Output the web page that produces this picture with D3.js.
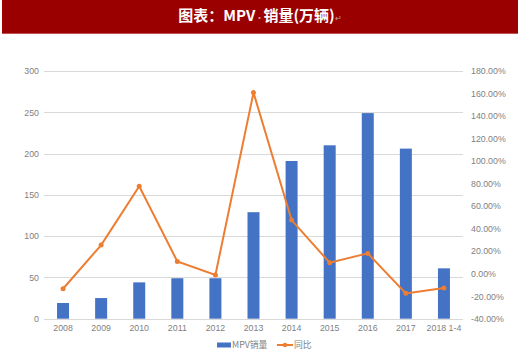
<!DOCTYPE html>
<html>
<head>
<meta charset="utf-8">
<script src="https://cdn.jsdelivr.net/npm/d3@7"></script>
<style>
  body { margin: 0; background: #fff; }
  svg { display: block; font-family: "Noto Sans CJK SC", "Noto Sans", sans-serif; }
</style>
</head>
<body>
<div id="chart"></div>
<script>
// chart data
let years = ['2008', '2009', '2010', '2011', '2012', '2013', '2014', '2015', '2016', '2017', '2018 1-4'];
let sales = [19, 25, 44, 49, 49, 129, 191, 210, 249, 206, 61];
let growth = [-13.4, 25.4, 77.7, 10.9, -1.2, 160.8, 47.6, 9.7, 18.0, -17.5, -12.8];
let leftTicks = [0, 50, 100, 150, 200, 250, 300];
let rightTicks = [-40, -20, 0, 20, 40, 60, 80, 100, 120, 140, 160, 180];

let width = 520, height = 354;
let margin = {top: 71, left: 44, right: 57, bottom: 35};

let svg = d3.select('#chart')
  .append('svg')
    .attr('width', width)
    .attr('height', height);

// header banner
svg.append('rect')
  .attr('x', 2)
  .attr('y', 0)
  .attr('width', 516)
  .attr('height', 34)
  .attr('fill', '#9a0000');

svg.append('rect')
  .attr('x', 2)
  .attr('y', 33)
  .attr('width', 516)
  .attr('height', 1)
  .attr('fill', '#c05050');

let title = svg.append('text')
  .attr('x', 260)
  .attr('y', 21)
  .attr('text-anchor', 'middle')
  .style('font-size', '15px')
  .style('font-weight', 'bold')
  .attr('fill', '#fff');
title.append('tspan').text('图表：MPV');
title.append('tspan').attr('fill', '#d8a0a0').style('font-size', '8px').text('·');
title.append('tspan').text('销量(万辆)');
title.append('tspan').attr('fill', '#c8a0a0').style('font-size', '8px').style('font-weight', 'normal').text('↵');

let plotW = width - margin.left - margin.right,
    plotH = height - margin.top - margin.bottom;

let g = svg.append('g')
  .attr('transform', 'translate(' + margin.left + ',' + margin.top + ')');

// scales
let x = d3.scaleBand()
  .domain(years)
  .range([0, plotW]);

let yLeft = d3.scaleLinear()
  .domain([0, 300])
  .range([plotH - 0.3, 0]);

let yRight = d3.scaleLinear()
  .domain([-40, 180])
  .range([plotH - 0.3, 0]);

// gridlines
g.append('g')
  .selectAll('line')
  .data(leftTicks)
  .enter()
  .append('line')
    .attr('x1', 0)
    .attr('x2', plotW)
    .attr('y1', d => Math.round(yLeft(d)) + 0.5)
    .attr('y2', d => Math.round(yLeft(d)) + 0.5)
    .attr('stroke', '#d9d9d9')
    .attr('stroke-width', 1);

// axis label style
let styleTicks = function(sel) {
  sel.select('.domain').remove();
  sel.selectAll('text')
    .style('font-size', '8.8px')
    .style('font-family', '"Liberation Sans", sans-serif')
    .attr('fill', '#7f7f7f');
};

// left axis
g.append('g')
  .call(d3.axisLeft(yLeft).tickValues(leftTicks).tickSize(0).tickPadding(5))
  .call(styleTicks);

// right axis
g.append('g')
  .attr('transform', 'translate(' + plotW + ',0)')
  .call(d3.axisRight(yRight).tickValues(rightTicks).tickSize(0).tickPadding(8)
    .tickFormat(d => d.toFixed(2) + '%'))
  .call(styleTicks);

// bottom axis
g.append('g')
  .attr('transform', 'translate(0,' + plotH + ')')
  .call(d3.axisBottom(x).tickSize(0).tickPadding(6))
  .call(styleTicks);

// bars
let barW = 12;
g.selectAll('.bar')
  .data(sales)
  .enter()
  .append('rect')
    .attr('class', 'bar')
    .attr('x', (d, i) => x(years[i]) + x.bandwidth() / 2 - barW / 2)
    .attr('y', d => yLeft(d))
    .attr('width', barW)
    .attr('height', d => yLeft(0) - yLeft(d))
    .attr('fill', '#4472c4');

// growth line
let line = d3.line()
  .x((d, i) => x(years[i]) + x.bandwidth() / 2)
  .y(d => yRight(d));

g.append('path')
  .datum(growth)
  .attr('d', line)
  .attr('fill', 'none')
  .attr('stroke', '#ed7d31')
  .attr('stroke-width', 2);

g.selectAll('.dot')
  .data(growth)
  .enter()
  .append('circle')
    .attr('class', 'dot')
    .attr('cx', (d, i) => x(years[i]) + x.bandwidth() / 2)
    .attr('cy', d => yRight(d))
    .attr('r', 2.5)
    .attr('fill', '#ed7d31');

// legend
let legend = svg.append('g')
  .attr('transform', 'translate(217,345)');

legend.append('rect')
  .attr('x', 0)
  .attr('y', -2.5)
  .attr('width', 14)
  .attr('height', 5)
  .attr('fill', '#4472c4');

legend.append('text')
  .attr('x', 15)
  .attr('y', 3)
  .style('font-size', '8.8px')
  .attr('fill', '#7f7f7f')
  .text('MPV销量');

legend.append('line')
  .attr('x1', 60)
  .attr('x2', 76)
  .attr('y1', 0)
  .attr('y2', 0)
  .attr('stroke', '#ed7d31')
  .attr('stroke-width', 2);

legend.append('circle')
  .attr('cx', 68)
  .attr('cy', 0)
  .attr('r', 2.2)
  .attr('fill', '#ed7d31');

legend.append('text')
  .attr('x', 77)
  .attr('y', 3)
  .style('font-size', '8.8px')
  .attr('fill', '#7f7f7f')
  .text('同比');
</script>
</body>
</html>
